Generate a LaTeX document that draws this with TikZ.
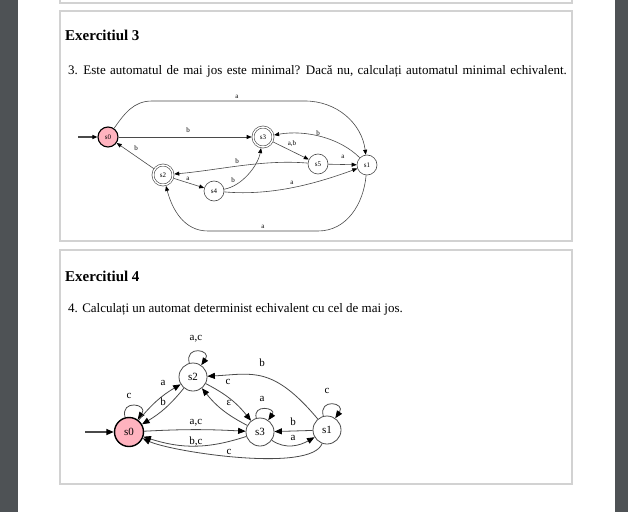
\documentclass[tikz,border=0pt]{standalone}
\usepackage{fontspec}
\setmainfont{Liberation Serif}
\usetikzlibrary{arrows.meta}
\definecolor{barcol}{HTML}{4E5255}
\definecolor{framecol}{HTML}{D2D2D2}
\definecolor{spink}{HTML}{FFB3BF}
\definecolor{edgecol}{HTML}{4A4A4A}
\begin{document}
\begin{tikzpicture}[x=1pt,y=1pt,
  frame/.style={draw=framecol, line width=1.2pt},
  head/.style={anchor=base west, inner sep=0pt, font=\bfseries\fontsize{15}{18}\selectfont},
  body/.style={anchor=base west, inner sep=0pt, font=\fontsize{13}{16}\selectfont},
  % diagram 1
  sa/.style={circle, draw=edgecol, line width=0.6pt, minimum size=20pt, inner sep=0pt, font=\fontsize{7}{8}\selectfont},
  sacc/.style={sa, double, double distance=1.4pt, minimum size=20pt, outer sep=1.3pt},
  sinit/.style={sa, fill=spink, draw=black, line width=1.1pt},
  ea/.style={draw=edgecol, line width=0.6pt, -{Triangle[length=5pt,width=4pt,color=black]}},
  la/.style={inner sep=0pt, font=\fontsize{7}{8}\selectfont},
  % diagram 2
  sb/.style={circle, draw=edgecol, line width=0.8pt, minimum size=28pt, inner sep=0pt, font=\fontsize{11}{12}\selectfont},
  sbinit/.style={sb, fill=spink, draw=black, line width=1.4pt, minimum size=29pt},
  eb/.style={draw=edgecol, line width=0.8pt, -{Triangle[length=7.5pt,width=6pt,color=black]}},
  lb/.style={inner sep=0pt, font=\fontsize{11}{12}\selectfont},
  loopb/.style={eb, min distance=19pt}
]
\useasboundingbox (0,0) rectangle (628,512);
% page background
\fill[barcol] (0,0) rectangle (18,512);
\fill[barcol] (615,0) rectangle (628,512);
\fill[white] (18,0) rectangle (615,512);
% panels
\draw[frame] (60,520) rectangle (572,509);
\draw[frame] (60,501) rectangle (572,271);
\draw[frame] (60,262) rectangle (572,28);

% texts
\node[head] (h3) at (65,471) {Exercitiul 3};
\node[body] (t3) at (68,437) {\spaceskip=4.4pt\relax 3. Este automatul de mai jos este minimal? Dacă nu, calculați automatul minimal echivalent.};
\node[head] (h4) at (65,231) {Exercitiul 4};
\node[body] (t4) at (68,200) {4. Calculați un automat determinist echivalent cu cel de mai jos.};

% ---------- diagram 1 ----------
\coordinate (i1) at (78,375);
\node[sinit] (a0) at (108,375) {s0};
\node[sacc]  (a3) at (263,375) {s3};
\node[sa]    (a5) at (318,348) {s5};
\node[sa]    (a1) at (367,347) {s1};
\node[sacc]  (a2) at (163,337) {s2};
\node[sa]    (a4) at (214,321) {s4};

\draw[ea, line width=1.1pt] (i1) -- (a0);
\draw[ea] (a0) to[out=55,in=180] (152,411) -- (305,411) to[out=0,in=97] (a1);
\draw[ea] (a0) -- (a3);
\draw[ea] (a3) -- (a5);
\draw[ea] (a5) -- (a1);
\draw[ea] (a1.135) .. controls +(135:28) and +(10:32) .. (a3.10);
\draw[ea] (a5.175) .. controls +(175:45) and +(5:45) .. (a2.5);
\draw[ea] (a2) -- (a0);
\draw[ea] (a2) -- (a4);
\draw[ea] (a4.10) .. controls +(10:18) and +(-100:18) .. (a3.-100);
\draw[ea] (a4.-5) .. controls +(-5:50) and +(200:40) .. (a1.200);
\draw[ea] (a1) to[out=-95,in=0] (318,281) -- (208,281) to[out=180,in=-75] (a2);

\node[la] (la1) at (237,415) {a};
\node[la] (la2) at (188,382) {b};
\node[la] (la3) at (292,368) {a,b};
\node[la] (la4) at (343,355) {a};
\node[la] (la5) at (318,379) {b};
\node[la] (la6) at (237,351) {b};
\node[la] (la7) at (136,364) {b};
\node[la] (la8) at (188,333) {a};
\node[la] (la9) at (233,332) {b};
\node[la] (la10) at (292,329) {a};
\node[la] (la11) at (263,285) {a};

% ---------- diagram 2 ----------
\coordinate (i2) at (85,80);
\node[sbinit] (b0) at (129,80) {s0};
\node[sb] (b2) at (193,135) {s2};
\node[sb] (b3) at (260,80) {s3};
\node[sb] (b1) at (327,82) {s1};

\draw[eb, line width=1.4pt] (i2) -- (b0);
\draw[loopb] (b0) to[out=105,in=55] (b0);
\draw[loopb] (b2) to[out=105,in=55] (b2);
\draw[loopb, min distance=15pt] (b3) to[out=105,in=55] (b3);
\draw[loopb] (b1) to[out=105,in=55] (b1);
\draw[eb] (b0) to[bend left=10] (b2);
\draw[eb] (b2) to[bend left=10] (b0);
\draw[eb] (b2) to[bend left=12] (b3);
\draw[eb] (b3) to[bend left=12] (b2);
\draw[eb] (b1.130) .. controls +(130:70) and +(3:45) .. (b2.3);
\draw[eb] (b0) to[bend left=3] (b3);
\draw[eb] (b3) to[bend left=18] (b0);
\draw[eb] (b1) -- (b3);
\draw[eb] (b3) to[out=-35,in=-150] (b1);
\draw[eb] (b1) to[out=-110,in=-25,looseness=0.45] (b0);

\node[lb] (lb1) at (129,116) {c};
\node[lb] (lb2) at (196,173) {a,c};
\node[lb] (lb3) at (262,113) {a};
\node[lb] (lb4) at (327,121) {c};
\node[lb] (lb5) at (163,129) {a};
\node[lb] (lb6) at (163,110) {b};
\node[lb] (lb7) at (228,130) {c};
\node[lb] (lb8) at (229,109) {ε};
\node[lb] (lb9) at (262,149) {b};
\node[lb] (lb10) at (196,89) {a,c};
\node[lb] (lb11) at (196,70) {b,c};
\node[lb] (lb12) at (293,90) {b};
\node[lb] (lb13) at (293,74) {a};
\node[lb] (lb14) at (229,60) {c};
\end{tikzpicture}
\end{document}
